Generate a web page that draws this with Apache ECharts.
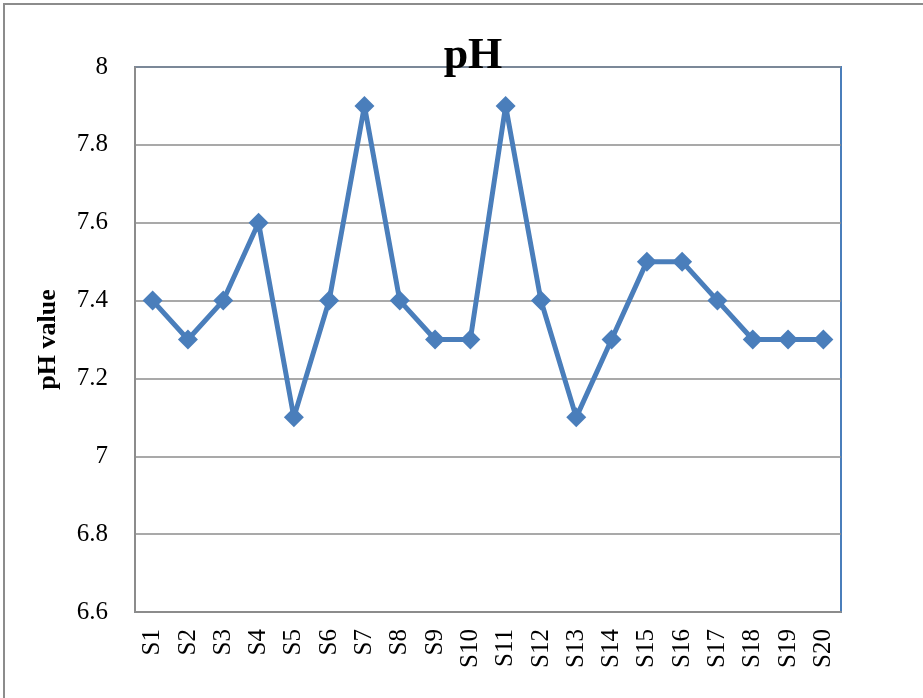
<!DOCTYPE html>
<html>
<head>
<meta charset="utf-8">
<script src="https://cdn.jsdelivr.net/npm/echarts@6/dist/echarts.min.js"></script>
<style>
  html, body { margin: 0; padding: 0; background: #fff; }
  #chart { width: 923px; height: 698px; }
</style>
</head>
<body>
<div id="chart"></div>
<script>
var sites = ['S1', 'S2', 'S3', 'S4', 'S5', 'S6', 'S7', 'S8', 'S9', 'S10',
  'S11', 'S12', 'S13', 'S14', 'S15', 'S16', 'S17', 'S18', 'S19', 'S20'];
var phValues = [7.4, 7.3, 7.4, 7.6, 7.1, 7.4, 7.9, 7.4, 7.3, 7.3,
  7.9, 7.4, 7.1, 7.3, 7.5, 7.5, 7.4, 7.3, 7.3, 7.3];
var yMin = 6.6, yMax = 8, yStep = 0.2;

var serif = '"Liberation Serif", "DejaVu Serif", serif';
var blue = '#4a7ebb';
var gray = '#8c8c8c';

var myChart = echarts.init(document.getElementById('chart'));
var option = {
  backgroundColor: '#fff',
  animation: false,
  title: {
    text: 'pH',
    left: 468,
    top: 30,
    textAlign: 'center',
    textStyle: { fontFamily: serif, fontWeight: 'bold', fontSize: 44, color: '#000' }
  },
  graphic: [{
    type: 'rect',
    shape: { x: 4, y: 4, width: 940, height: 720 },
    style: { fill: 'none', stroke: gray, lineWidth: 2 },
    silent: true,
    z: -1
  }],
  grid: {
    left: 135, top: 67, right: 82, bottom: 86,
    show: true,
    borderColor: blue,
    borderWidth: 2
  },
  xAxis: {
    type: 'category',
    data: sites,
    boundaryGap: true,
    axisLine: { lineStyle: { color: gray, width: 2 } },
    axisTick: { show: false },
    axisLabel: {
      rotate: 90,
      margin: 17,
      interval: 0,
      fontFamily: serif,
      fontSize: 25,
      color: '#000'
    }
  },
  yAxis: {
    type: 'value',
    min: yMin,
    max: yMax,
    interval: yStep,
    name: 'pH value',
    nameLocation: 'middle',
    nameGap: 74,
    nameTextStyle: { fontFamily: serif, fontWeight: 'bold', fontSize: 26, color: '#000' },
    axisLine: { show: true, lineStyle: { color: gray, width: 2 } },
    axisTick: { show: false },
    splitLine: { lineStyle: { color: gray, width: 1.5 } },
    axisLabel: {
      margin: 27,
      fontFamily: serif,
      fontSize: 25,
      color: '#000',
      formatter: function (v) { return String(Math.round(v * 10) / 10); }
    }
  },
  series: [{
    name: 'pH',
    type: 'line',
    data: phValues,
    symbol: 'diamond',
    symbolSize: [20, 20],
    lineStyle: { color: blue, width: 5 },
    itemStyle: { color: blue },
    z: 5
  }]
};
option && myChart.setOption(option);
</script>
</body>
</html>
